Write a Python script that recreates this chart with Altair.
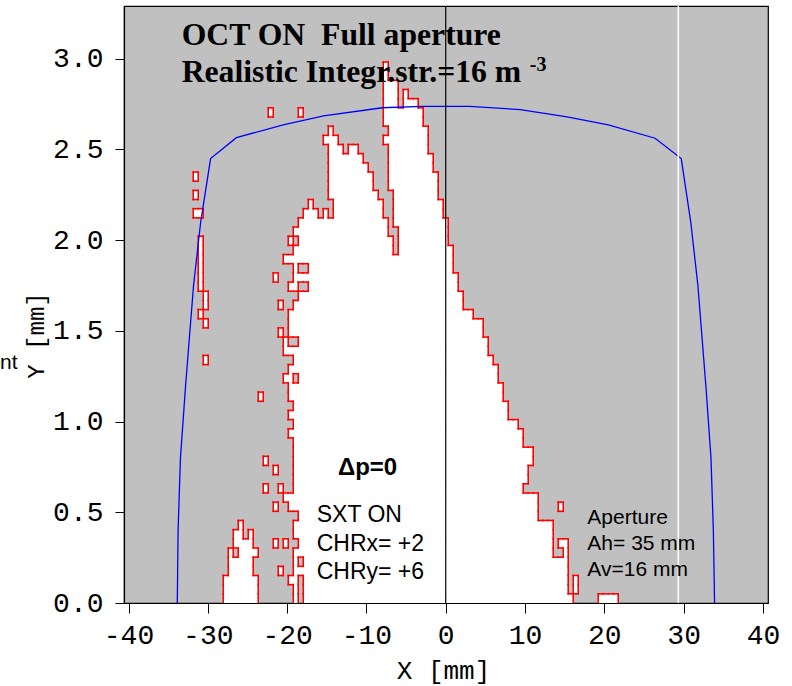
import altair as alt
import pandas as pd

# ---------------- data ----------------
CELL_W = 0.6305   # mm, width of one tracking cell
CELL_H = 0.05055  # mm, height of one tracking cell

# surviving (white) cells as runs: (row, first column, last column)
MAIN_RUNS = [
    (0, -30, -30), (0, -28, 25),
    (1, -30, -30), (1, -28, 24),
    (2, -31, -30), (2, -28, 24),
    (3, -30, 24),
    (4, -30, -30), (4, -28, 24),
    (5, -30, 21), (5, 24, 24),
    (6, -29, 21), (6, 23, 24),
    (7, -30, 21),
    (8, -30, 21),
    (9, -29, 18),
    (10, -31, 18),
    (11, -32, 18),
    (12, -30, 15),
    (13, -30, 16),
    (14, -30, 16),
    (15, -30, 17),
    (16, -30, 17),
    (17, -30, 15),
    (18, -31, 15),
    (19, -30, 14),
    (20, -31, 12),
    (21, -30, 12),
    (22, -31, 11),
    (23, -31, 11),
    (24, -32, -31), (24, -29, 10),
    (25, -31, 10),
    (26, -30, 9),
    (27, -32, 8),
    (28, -32, -32), (28, -29, 8),
    (29, -31, 7),
    (30, -31, 7),
    (31, -31, 5),
    (32, -30, 3),
    (33, -29, 3),
    (34, -31, -30), (34, -27, 2),
    (35, -30, 2),
    (36, -30, -30), (36, -27, 1),
    (37, -32, 1),
    (38, -30, -11), (38, -9, 1),
    (39, -31, -31), (39, -29, -11), (39, -9, 0),
    (40, -30, -12), (40, -9, 0),
    (41, -29, -12), (41, -10, 0),
    (42, -28, -26), (42, -24, -24), (42, -22, -13), (42, -10, -1),
    (43, -27, -27), (43, -22, -13), (43, -10, -1),
    (44, -23, -14), (44, -10, -2),
    (45, -23, -15), (45, -11, -2),
    (46, -23, -15), (46, -11, -2),
    (47, -23, -16), (47, -11, -3),
    (48, -23, -17), (48, -11, -3),
    (49, -23, -21), (49, -19, -18), (49, -11, -4),
    (50, -24, -22), (50, -12, -4),
    (51, -23, -23), (51, -11, -4),
    (52, -12, -5),
    (53, -12, -5),
    (54, -12, -10), (54, -8, -6),
    (55, -12, -10), (55, -8, -8),
    (56, -12, -10),
    (57, -12, -12),
    (58, -12, -12),
]

ISLAND_RUNS = [
    (0, -44, -38), (1, -44, -38), (2, -44, -38),
    (3, -43, -39), (4, -43, -39),
    (5, -43, -43), (5, -41, -38),
    (6, -42, -39),
    (7, -42, -41), (7, -39, -39),
    (8, -41, -41),
]

LOOSE_CELLS = [
    (53, -35, -35), (53, -29, -29),
    (46, -50, -50), (44, -50, -50), (42, -50, -49),
    (39, -49, -49), (38, -49, -49), (37, -49, -49), (36, -49, -49),
    (35, -49, -49), (34, -49, -49), (33, -48, -48), (32, -48, -48),
    (31, -49, -49), (30, -48, -48), (26, -48, -48),
    (35, -34, -34), (32, -33, -33), (29, -33, -33), (22, -37, -37),
    (15, -36, -36), (14, -34, -34), (12, -36, -36), (12, -33, -33),
    (10, -34, -34), (6, -34, -34), (6, -32, -32), (3, -33, -33),
    (10, 23, 23), (1, 26, 26), (2, 26, 26), (0, 31, 34),
]

APERTURE_X = [-33.85, -33.75, -33.45, -32.8, -31.8, -30.9, -29.65, -26.4, -20.5,
              -15.4, -8.0, -3.0, 3.0, 9.4, 15.3, 20.5, 26.4, 29.7, 30.9, 31.8,
              32.8, 33.45, 33.75, 33.9]
APERTURE_Y = [0.0, 0.4, 0.8, 1.2, 1.75, 2.1, 2.45, 2.565, 2.636,
              2.685, 2.73, 2.738, 2.738, 2.72, 2.68, 2.636, 2.562, 2.45, 2.1, 1.75,
              1.2, 0.8, 0.4, 0.0]

X_TICKS = [-40, -30, -20, -10, 0, 10, 20, 30, 40]
Y_TICKS = [0.0, 0.5, 1.0, 1.5, 2.0, 2.5, 3.0]
X_DOMAIN = [-40.57, 40.64]
Y_DOMAIN = [0.0, 3.291]
CENTER_LINE_X = [0.0]
WHITE_LINE_X = [29.33]

TITLE_LINES = ["OCT ON\u00a0 Full aperture", "Realistic Integr.str.=16 m"]
TITLE_X = [-33.3, -33.3]
TITLE_Y = [3.076, 2.874]
SUP_TEXT = ["-3"]
SUP_X = [10.6]
SUP_Y = [2.93]
DP_TEXT = ["\u0394p=0"]
DP_X = [-9.86]
DP_Y = [0.706]
SXT_LINES = ["SXT ON", "CHRx= +2", "CHRy= +6"]
SXT_X = [-16.27, -16.27, -16.27]
SXT_Y = [0.448, 0.288, 0.131]
AP_LINES = ["Aperture", "Ah= 35 mm", "Av=16 mm"]
AP_X = [17.86, 17.86, 17.86]
AP_Y = [0.4355, 0.292, 0.149]
EDGE_TEXT = ["nt"]

# ---------------- tables ----------------
runs = MAIN_RUNS + ISLAND_RUNS + LOOSE_CELLS
runs_df = pd.DataFrame({
    "x": [(a - 0.5) * CELL_W for (_, a, b) in runs],
    "x2": [(b + 0.5) * CELL_W for (_, a, b) in runs],
    "y": [r * CELL_H for (r, a, b) in runs],
    "y2": [(r + 1) * CELL_H for (r, a, b) in runs],
})

cells = set()
for (r, a, b) in runs:
    for n in range(a, b + 1):
        cells.add((n, r))
edges = []
for (n, r) in sorted(cells):
    x0, x1 = (n - 0.5) * CELL_W, (n + 0.5) * CELL_W
    y0, y1 = r * CELL_H, (r + 1) * CELL_H
    if (n - 1, r) not in cells:
        edges.append((x0, x0, y0, y1))
    if (n + 1, r) not in cells:
        edges.append((x1, x1, y0, y1))
    if r > 0 and (n, r - 1) not in cells:
        edges.append((x0, x1, y0, y0))
    if (n, r + 1) not in cells:
        edges.append((x0, x1, y1, y1))
edges_df = pd.DataFrame(edges, columns=["x", "x2", "y", "y2"])

ap_df = pd.DataFrame({"x": APERTURE_X, "y": APERTURE_Y, "i": list(range(len(APERTURE_X)))})

# ---------------- scales / axes ----------------
XS = alt.Scale(domain=X_DOMAIN, nice=False, zero=False)
YS = alt.Scale(domain=Y_DOMAIN, nice=False, zero=False)
XA = alt.Axis(values=X_TICKS, title="X [mm]", grid=False, tickSize=10, labelPadding=8,
              labelFont="Liberation Mono", labelFontSize=28, labelColor="black",
              labelFlush=False, labelOverlap=False, labelBound=False,
              labelExpr="replace(datum.label, '\u2212', '-')",
              domainColor="black", tickColor="black", domainWidth=1.2,
              titleFont="Liberation Mono", titleFontSize=26, titleFontWeight="normal",
              titleColor="black", titleX=319, titleY=67, titleBaseline="middle",
              titleAlign="center", zindex=1)
YA = alt.Axis(values=Y_TICKS, format=".1f", title="Y [mm]", grid=False, tickSize=9,
              labelPadding=12, labelFont="Liberation Mono", labelFontSize=28,
              labelColor="black", labelFlush=False, labelOverlap=False, labelBound=False,
              domainColor="black", tickColor="black", domainWidth=1.2,
              titleFont="Liberation Mono", titleFontSize=24, titleFontWeight="normal",
              titleColor="black", titleX=-88, titleY=329, titleAngle=270,
              titleBaseline="middle", titleAlign="center", zindex=1)


def X(f="x"):
    return alt.X(f, type="quantitative", scale=XS, axis=XA)


def Y(f="y"):
    return alt.Y(f, type="quantitative", scale=YS, axis=YA)


white = alt.Chart(runs_df).mark_rect(fill="white", stroke="white", strokeWidth=1,
                                      clip=True).encode(
    x=X(), x2="x2:Q", y=Y(), y2="y2:Q")

red = alt.Chart(edges_df).mark_rule(color="#ff0000", strokeWidth=1.6,
                                    strokeCap="square", clip=True).encode(
    x=X(), x2="x2:Q", y=Y(), y2="y2:Q")

blue = alt.Chart(ap_df).mark_line(color="#0000ff", strokeWidth=1.3).encode(
    x=X(), y=Y(), order="i:Q")

center = alt.Chart(pd.DataFrame({"x": CENTER_LINE_X})).mark_rule(
    color="black", strokeWidth=1.2).encode(x=X())
wline = alt.Chart(pd.DataFrame({"x": WHITE_LINE_X})).mark_rule(
    color="white", strokeWidth=1.5).encode(x=X())


def texts(lines, xs, ys, **kw):
    df = pd.DataFrame({"t": lines, "x": xs, "y": ys})
    return alt.Chart(df).mark_text(color="black", **kw).encode(
        x=X(), y=Y(), text="t:N")


title_t = texts(TITLE_LINES, TITLE_X, TITLE_Y, align="left", baseline="alphabetic",
                font="Liberation Serif", fontSize=31.7, fontWeight="bold")
sup_t = texts(SUP_TEXT, SUP_X, SUP_Y, align="left", baseline="alphabetic",
              font="Liberation Serif", fontSize=20, fontWeight="bold")
dp_t = texts(DP_TEXT, DP_X, DP_Y, align="center", baseline="alphabetic",
             font="Liberation Sans", fontSize=24, fontWeight="bold")
sxt_t = texts(SXT_LINES, SXT_X, SXT_Y, align="left", baseline="alphabetic",
              font="Liberation Sans", fontSize=23)
ap_t = texts(AP_LINES, AP_X, AP_Y, align="left", baseline="alphabetic",
             font="Liberation Sans", fontSize=21)

nt = alt.Chart(pd.DataFrame({"t": EDGE_TEXT})).mark_text(
    align="left", baseline="alphabetic", font="Liberation Sans", fontSize=21,
    color="black").encode(x=alt.value(-124), y=alt.value(363), text="t:N")

chart = alt.layer(white, red, blue, center, wline, title_t, sup_t, dp_t, sxt_t, ap_t, nt).properties(
    width=644, height=597,
    padding={"left": 124, "top": 6, "right": 24, "bottom": 83},
    autosize=alt.AutoSizeParams(type="none"),
    background="white",
).configure_view(fill="#c0c0c0", stroke="black", strokeWidth=1.2)

chart.save("out.html", embed_options={"renderer": "svg", "actions": False})
